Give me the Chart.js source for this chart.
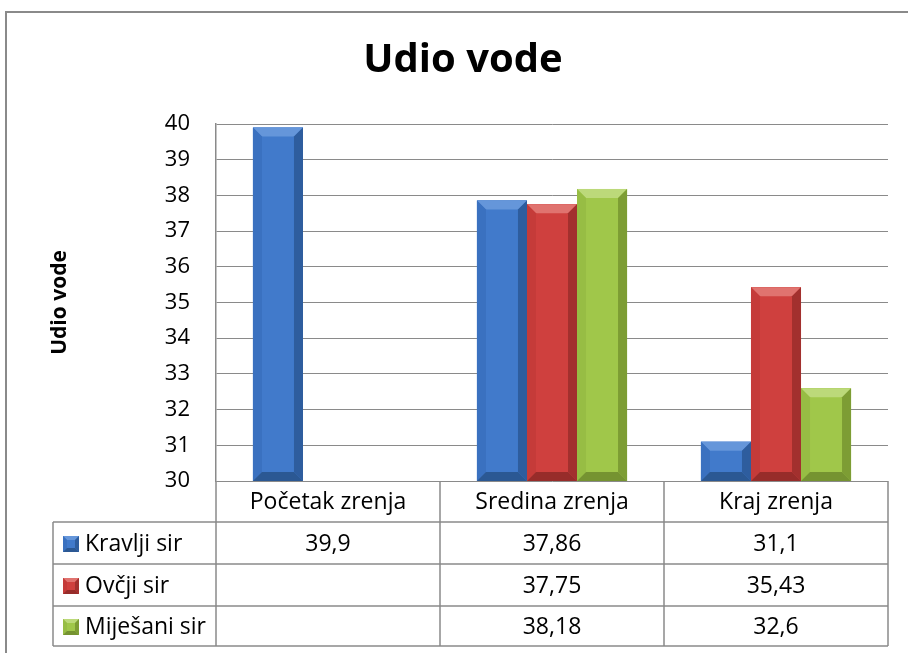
<!DOCTYPE html>
<html>
<head>
<meta charset="utf-8">
<title>Udio vode</title>
<script src="https://cdn.jsdelivr.net/npm/chart.js"></script>
<style>
  body { margin: 0; background: #fff; }
  #wrap { width: 908px; height: 653px; }
</style>
</head>
<body>
<div id="wrap"><canvas id="c" width="908" height="653"></canvas></div>
<script>
// data
const categories = ['Početak zrenja', 'Sredina zrenja', 'Kraj zrenja'];
const seriesNames = ['Kravlji sir', 'Ovčji sir', 'Miješani sir'];
const kravlji = [39.9, 37.86, 31.1];
const ovcji = [null, 37.75, 35.43];
const mijesani = [null, 38.18, 32.6];
const yMin = 30, yMax = 40, yStep = 1;

// bar shading: face + bevel sides
const palettes = [
  { face: '#417acb', top: '#6596da', left: '#3a71c0', right: '#2e5d9e', bottom: '#2b5893' },
  { face: '#cf403e', top: '#e0736f', left: '#c53b39', right: '#a2302e', bottom: '#972c2a' },
  { face: '#a0c74a', top: '#bcd97a', left: '#97bd44', right: '#7d9d34', bottom: '#759331' }
];
const FONT = "'Open Sans', sans-serif";
const LINE = '#8a8a8a';

function poly(ctx, pts, color) {
  ctx.beginPath();
  ctx.moveTo(pts[0][0], pts[0][1]);
  for (let i = 1; i < pts.length; i++) ctx.lineTo(pts[i][0], pts[i][1]);
  ctx.closePath();
  ctx.fillStyle = color;
  ctx.fill();
}

function drawBevel(ctx, l, t, w, h, pal, size) {
  const r = l + w, bt = t + h;
  const b = Math.min(size, h / 2, w / 2);
  ctx.fillStyle = pal.face;
  ctx.fillRect(l, t, w, h);
  poly(ctx, [[l, t], [r, t], [r - b, t + b], [l + b, t + b]], pal.top);
  poly(ctx, [[l, t], [l + b, t + b], [l + b, bt - b], [l, bt]], pal.left);
  poly(ctx, [[r, t], [r, bt], [r - b, bt - b], [r - b, t + b]], pal.right);
  poly(ctx, [[l, bt], [l + b, bt - b], [r - b, bt - b], [r, bt]], pal.bottom);
}

const bevelPlugin = {
  id: 'bevel',
  afterDatasetsDraw(chart) {
    const ctx = chart.ctx;
    const area = chart.chartArea;
    ctx.save();
    chart.data.datasets.forEach((ds, di) => {
      const meta = chart.getDatasetMeta(di);
      meta.data.forEach((bar, i) => {
        if (ds.data[i] == null) return;
        const p = bar.getProps(['x', 'y', 'base', 'width'], true);
        const top = Math.max(p.y, area.top);
        const bottom = Math.min(p.base, area.bottom);
        drawBevel(ctx, p.x - p.width / 2, top, p.width, bottom - top, palettes[di], 9);
      });
    });
    ctx.restore();
  }
};

// frame + data table under the plot
const tablePlugin = {
  id: 'dataTable',
  beforeDraw(chart) {
    const ctx = chart.ctx;
    ctx.save();
    ctx.strokeStyle = LINE;
    ctx.lineWidth = 2;
    ctx.strokeRect(6, 12, 920, 670);
    ctx.restore();
  },
  afterDraw(chart) {
    const ctx = chart.ctx;
    const area = chart.chartArea;
    const x = chart.scales.x;
    const legendLeft = 53;
    const rowH = [41, 42, 42, 40];
    const rows = [area.bottom];
    rowH.forEach(h => rows.push(rows[rows.length - 1] + h));
    const n = categories.length;
    const cw = (area.right - area.left) / n;
    const bounds = [];
    for (let i = 0; i <= n; i++) bounds.push(area.left + cw * i);

    ctx.save();
    ctx.strokeStyle = LINE;
    ctx.lineWidth = 1.5;
    ctx.beginPath();
    ctx.moveTo(area.left, rows[1]); ctx.lineTo(area.right, rows[1]);
    for (let r = 1; r < rows.length; r++) {
      ctx.moveTo(legendLeft, rows[r]); ctx.lineTo(area.right, rows[r]);
    }
    ctx.moveTo(legendLeft, rows[1]); ctx.lineTo(legendLeft, rows[4]);
    bounds.forEach(bx => { ctx.moveTo(bx, area.bottom); ctx.lineTo(bx, rows[4]); });
    ctx.stroke();

    ctx.fillStyle = '#000';
    ctx.font = '23px ' + FONT;
    ctx.textBaseline = 'middle';
    ctx.textAlign = 'center';
    categories.forEach((c, i) => {
      ctx.fillText(c, x.getPixelForValue(i), (rows[0] + rows[1]) / 2 + 1);
    });
    chart.data.datasets.forEach((ds, di) => {
      const cy = (rows[di + 1] + rows[di + 2]) / 2 + 1;
      ctx.textAlign = 'center';
      ctx.fillStyle = '#000';
      ds.data.forEach((v, i) => {
        if (v == null) return;
        ctx.fillText(String(v).replace('.', ','), x.getPixelForValue(i), cy);
      });
      drawBevel(ctx, 63, cy - 8, 16, 16, palettes[di], 4);
      ctx.textAlign = 'left';
      ctx.fillStyle = '#000';
      ctx.fillText(seriesNames[di], 85, cy);
    });
    ctx.restore();
  }
};

new Chart(document.getElementById('c'), {
  type: 'bar',
  data: {
    labels: categories,
    datasets: [
      { label: seriesNames[0], data: kravlji, backgroundColor: palettes[0].face },
      { label: seriesNames[1], data: ovcji, backgroundColor: palettes[1].face },
      { label: seriesNames[2], data: mijesani, backgroundColor: palettes[2].face }
    ]
  },
  options: {
    responsive: false,
    animation: false,
    layout: { padding: { top: 12, left: 38, right: 20, bottom: 0 } },
    datasets: { bar: { categoryPercentage: 0.67, barPercentage: 1, borderWidth: 0 } },
    plugins: {
      legend: { display: false },
      tooltip: { enabled: false },
      title: {
        display: true,
        text: 'Udio vode',
        color: '#000',
        font: { family: FONT, size: 40, weight: 'bold' },
        padding: { top: 25, bottom: 39 }
      }
    },
    scales: {
      x: {
        grid: { display: false },
        border: { display: false },
        ticks: { display: false },
        afterFit(s) { s.height = 172; }
      },
      y: {
        min: yMin,
        max: yMax,
        ticks: { stepSize: yStep, color: '#000', padding: 26, font: { family: FONT, size: 22 } },
        grid: { color: LINE, lineWidth: 1, drawTicks: false },
        border: { color: LINE, width: 1.5 },
        title: {
          display: true,
          text: 'Udio vode',
          color: '#000',
          font: { family: FONT, size: 21, weight: 'bold' },
          padding: { top: 9, bottom: 0 }
        },
        afterFit(s) { s.width = 178; }
      }
    }
  },
  plugins: [bevelPlugin, tablePlugin]
});
</script>
</body>
</html>
